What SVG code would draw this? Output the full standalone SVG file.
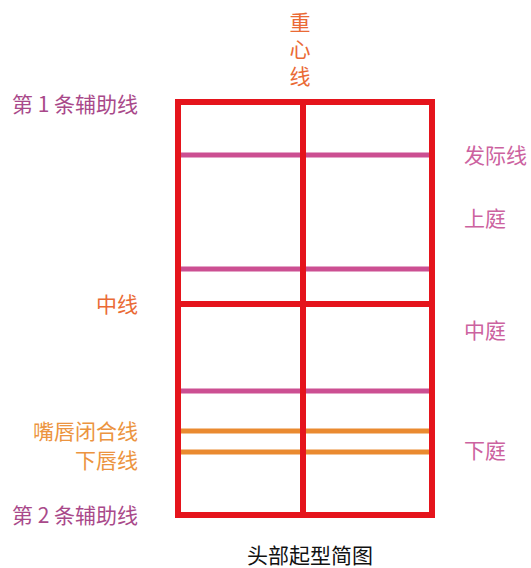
<svg xmlns="http://www.w3.org/2000/svg" width="531" height="568" viewBox="0 0 531 568">
<style>
.t{font-family:"Noto Sans CJK SC","Liberation Sans",sans-serif;font-size:21px}
.or{fill:#ea6a35}
.or2{fill:#ec9440}
.pu{fill:#a9498a}
.pk{fill:#cc62a0}
.red{stroke:#e5141c;stroke-width:6;fill:none}
.pl{stroke:#cc4f92;stroke-width:5}
.ol{stroke:#ea8a30;stroke-width:5}
</style>
<rect width="531" height="568" fill="#fff"/>
<g id="connectors">
<line class="pl" x1="181" y1="155" x2="429" y2="155"/>
<line class="pl" x1="181" y1="269" x2="429" y2="269"/>
<line class="pl" x1="181" y1="391" x2="429" y2="391"/>
<line class="ol" x1="181" y1="431" x2="429" y2="431"/>
<line class="ol" x1="181" y1="452" x2="429" y2="452"/>
<line class="red" x1="178" y1="304" x2="432" y2="304"/>
<line class="red" x1="303" y1="102" x2="303" y2="515"/>
<rect id="frame" class="red" x="178" y="102" width="254" height="413"/>
</g>
<g id="center-label">
<text class="t or" x="300" y="12" writing-mode="tb" letter-spacing="6">重心线</text>
</g>
<g id="left-labels">
<text class="t pu" x="138" y="112" text-anchor="end">第 1 条辅助线</text>
<text class="t or" x="138" y="312" text-anchor="end">中线</text>
<text class="t or2" x="138" y="439" text-anchor="end">嘴唇闭合线</text>
<text class="t or2" x="138" y="468" text-anchor="end">下唇线</text>
<text class="t pu" x="138" y="523" text-anchor="end">第 2 条辅助线</text>
</g>
<g id="right-labels">
<text class="t pk" x="464" y="163">发际线</text>
<text class="t pk" x="464" y="226">上庭</text>
<text class="t pk" x="464" y="338">中庭</text>
<text class="t pk" x="464" y="458">下庭</text>
</g>
<g id="caption">
<text class="t" x="310" y="563" text-anchor="middle" fill="#111">头部起型简图</text>
</g>
</svg>
